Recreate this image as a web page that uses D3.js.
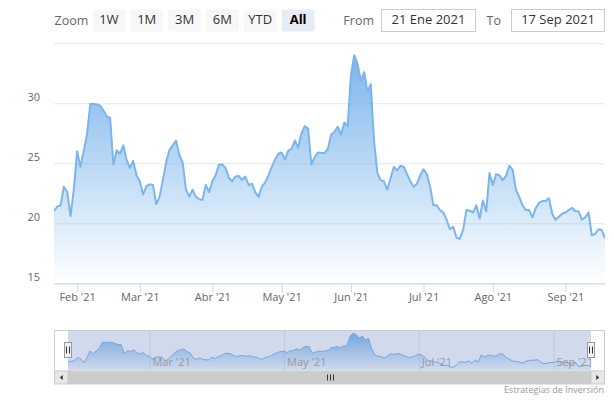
<!DOCTYPE html>
<html><head><meta charset="utf-8">
<script src="https://cdn.jsdelivr.net/npm/d3@7"></script>
<style>body{margin:0;background:#fff}svg{display:block;font-family:"Open Sans",sans-serif}</style>
</head><body><svg id="c" width="614" height="404"></svg>
<script>
// ---- data (one value per trading day, 21 Ene 2021 .. 17 Sep 2021) ----
const values = [
 21.0,21.4,21.5,23.05,22.6,20.6,22.8,26.0,24.7,26.0,27.4,29.95,29.95,29.9,29.8,29.4,28.9,28.8,24.9,26.1,25.8,26.5,25.3,24.6,25.2,24.0,23.5,22.4,23.1,23.25,23.2,
 21.6,22.2,23.6,25.1,26.1,26.5,26.9,25.7,25.05,22.8,22.2,22.8,22.2,22.0,21.95,23.2,22.6,23.5,24.0,24.9,24.9,24.6,23.8,23.5,23.9,23.95,23.6,23.9,
 23.2,23.3,22.6,22.2,23.05,23.4,24.0,24.7,25.3,25.8,25.9,25.3,26.05,26.2,26.9,26.3,27.5,28.1,27.9,24.9,25.5,25.9,25.85,25.85,26.2,27.4,27.6,28.05,27.4,
 28.4,28.1,32.4,34.0,33.3,31.9,32.6,31.0,31.6,26.9,24.2,23.6,23.5,22.8,23.75,24.7,24.4,24.8,24.7,24.1,23.5,23.05,23.3,24.0,24.5,24.1,23.05,21.5,
 21.5,21.1,20.9,20.3,19.5,19.7,18.8,18.7,19.45,21.1,21.05,20.9,21.5,20.4,21.9,21.0,24.2,23.2,24.1,24.0,23.6,23.95,24.8,24.45,22.8,22.2,21.5,
 21.1,21.1,20.5,21.25,21.7,21.85,21.85,22.1,20.8,20.3,20.55,20.8,20.9,21.1,21.3,21.0,21.0,20.3,20.5,20.9,19.0,19.1,19.5,19.45,18.75
];
const monthTickIndex = [7,26,48,69,90,112,133,155];
const monthTickLabels = ["Feb '21","Mar '21","Abr '21","May '21","Jun '21","Jul '21","Ago '21","Sep '21"];
const yTicks = [15,20,25,30,35];
const yTickLabels = ["15","20","25","30",""];
const navTickIndex = [26,69,112,155];
const navTickLabels = ["Mar '21","May '21","Jul '21","Sep '21"];
const zoomButtons = ["1W","1M","3M","6M","YTD","All"];
const selectedButton = "All";
const fromDate = "21 Ene 2021";
const toDate = "17 Sep 2021";
const creditText = "Estrategias de Inversión";

// ---- layout ----
const svg = d3.select("#c");
const P = {l:54, r:605, t:43.3, b:283.3};
const N = {l:68, r:591, t:330.5, b:370.5};
const color = "#7cb5ec";

const defs = svg.append("defs");
const grad = defs.append("linearGradient").attr("id","g1").attr("x1",0).attr("y1",0).attr("x2",0).attr("y2",1);
grad.append("stop").attr("offset",0).attr("stop-color",color).attr("stop-opacity",1);
grad.append("stop").attr("offset",1).attr("stop-color",color).attr("stop-opacity",0);
defs.append("clipPath").attr("id","clipMain").append("rect").attr("x",P.l).attr("y",P.t).attr("width",P.r-P.l).attr("height",P.b-P.t);

// ---- toolbar ----
const tb = svg.append("g");
tb.append("text").attr("x",54.5).attr("y",24.5).attr("fill","#666").attr("font-size",12.5).text("Zoom");
const bx = d3.scaleBand().domain(zoomButtons).range([92.5, 92.5+37*6]).paddingInner(5/37).paddingOuter(0);
const btn = tb.selectAll("g.btn").data(zoomButtons).join("g").attr("transform",d=>`translate(${bx(d)},9.5)`);
btn.append("rect").attr("width",bx.bandwidth()).attr("height",22).attr("rx",2)
  .attr("fill",d=>d===selectedButton?"#e6ebf5":"#f7f7f7");
btn.append("text").attr("x",bx.bandwidth()/2).attr("y",14.5).attr("text-anchor","middle").attr("font-size",13)
  .attr("fill",d=>d===selectedButton?"#000":"#333").attr("font-weight",d=>d===selectedButton?"bold":"normal").text(d=>d);
tb.append("text").attr("x",374).attr("y",24.5).attr("text-anchor","end").attr("fill","#666").attr("font-size",12.5).text("From");
tb.append("rect").attr("x",381.5).attr("y",9.5).attr("width",94).attr("height",22).attr("fill","#fff").attr("stroke","#ccc");
tb.append("text").attr("x",428.5).attr("y",24).attr("text-anchor","middle").attr("fill","#333").attr("font-size",13).text(fromDate);
tb.append("text").attr("x",486.5).attr("y",24.5).attr("fill","#666").attr("font-size",12.5).text("To");
tb.append("rect").attr("x",511.5).attr("y",9.5).attr("width",93).attr("height",22).attr("fill","#fff").attr("stroke","#ccc");
tb.append("text").attr("x",558).attr("y",24).attr("text-anchor","middle").attr("fill","#333").attr("font-size",13).text(toDate);

// ---- main chart ----
const x = d3.scaleLinear().domain([0, values.length-1]).range([P.l, P.r]);
const y = d3.scaleLinear().domain([15,35]).range([P.b, P.t]);

const yAx = svg.append("g").attr("transform",`translate(${P.l},0)`)
  .call(d3.axisLeft(y).tickValues(yTicks).tickSize(-(P.r-P.l)).tickPadding(14).tickFormat((d,i)=>yTickLabels[i]));
yAx.select(".domain").remove();
yAx.selectAll("line").attr("stroke","#e6e6e6");
yAx.selectAll("text").attr("dy",-3).attr("fill","#666").attr("font-size",11).attr("font-family","Open Sans");

const area = d3.area().x((d,i)=>x(i)).y0(P.b).y1(d=>y(d));
const line = d3.line().x((d,i)=>x(i)).y(d=>y(d));
const gm = svg.append("g").attr("clip-path","url(#clipMain)");
gm.append("path").datum(values).attr("d",area).attr("fill","url(#g1)");
gm.append("path").datum(values).attr("d",line).attr("fill","none").attr("stroke",color).attr("stroke-width",2).attr("stroke-linejoin","round");

const xAx = svg.append("g").attr("transform",`translate(0,${P.b})`)
  .call(d3.axisBottom(x).tickValues(monthTickIndex).tickFormat((d,i)=>monthTickLabels[i]).tickSize(9).tickSizeOuter(0).tickPadding(1));
xAx.select(".domain").attr("stroke","#ccd6eb");
xAx.selectAll("line").attr("stroke","#ccd6eb");
xAx.selectAll("text").attr("fill","#666").attr("font-size",11).attr("font-family","Open Sans");

// ---- navigator ----
const xn = d3.scaleLinear().domain([0, values.length-1]).range([N.l, N.r]);
const yn = d3.scaleLinear().domain([17.2,35.2]).range([N.b, N.t]);
const nav = svg.append("g");
const nAx = nav.append("g").attr("transform",`translate(0,${N.b})`)
  .call(d3.axisBottom(xn).tickValues(navTickIndex).tickFormat((d,i)=>navTickLabels[i]).tickSize(-(N.b-N.t)).tickSizeOuter(0));
nAx.select(".domain").remove();
nAx.selectAll("line").attr("stroke","#e6e6e6");
const nLabels = nAx.selectAll("text").remove();
const narea = d3.area().x((d,i)=>xn(i)).y0(N.b).y1(d=>yn(d));
const nline = d3.line().x((d,i)=>xn(i)).y(d=>yn(d));
nav.append("path").datum(values).attr("d",narea).attr("fill","url(#g1)");
nav.append("path").datum(values).attr("d",nline).attr("fill","none").attr("stroke",color).attr("stroke-width",1);
nav.append("rect").attr("x",N.l).attr("y",N.t).attr("width",N.r-N.l).attr("height",N.b-N.t).attr("fill","rgba(102,133,194,0.3)");
nav.selectAll("text.nl").data(navTickIndex).join("text").attr("class","nl")
  .attr("x",d=>xn(d)+3).attr("y",366).attr("fill","#999").attr("font-size",11).text((d,i)=>navTickLabels[i]);
nav.append("path").attr("d",`M${P.l+0.5},${N.b}V${N.t}H${P.r-0.5}V${N.b}`).attr("fill","none").attr("stroke","#cccccc");

// scrollbar
const sb = svg.append("g").attr("transform",`translate(0,${N.b})`);
sb.append("rect").attr("x",P.l+0.5).attr("y",0).attr("width",P.r-P.l-1).attr("height",13).attr("fill","#f2f2f2").attr("stroke","#f2f2f2");
sb.append("rect").attr("x",N.l).attr("y",0.5).attr("width",N.r-N.l).attr("height",13).attr("fill","#cccccc").attr("stroke","#cccccc");
[[P.l+0.5,-1],[N.r,1]].forEach(([bx0,dir])=>{
  sb.append("rect").attr("x",bx0).attr("y",0.5).attr("width",13.5).attr("height",13).attr("fill","#e6e6e6").attr("stroke","#cccccc");
  const cx = bx0+6.75;
  sb.append("path").attr("d",`M${cx-1.5*dir},4.5L${cx+1.5*dir},7L${cx-1.5*dir},9.5Z`).attr("fill","#333");
});
const mid = (N.l+N.r)/2;
[-3,0,3].forEach(o=>sb.append("line").attr("x1",Math.round(mid+o)+0.5).attr("x2",Math.round(mid+o)+0.5).attr("y1",4).attr("y2",10).attr("stroke","#333"));

// handles
[N.l, N.r].forEach(hx=>{
  const h = svg.append("g").attr("transform",`translate(${Math.round(hx)},342.5)`);
  h.append("rect").attr("x",-3.5).attr("y",0).attr("width",7).attr("height",15).attr("fill","#f2f2f2").attr("stroke","#999");
  h.append("path").attr("d","M-1.5,4V11M1.5,4V11").attr("stroke","#333").attr("stroke-width",1);
});

// credits
svg.append("text").attr("x",604).attr("y",393).attr("text-anchor","end").attr("fill","#999").attr("font-size",9).text(creditText);
</script></body></html>
